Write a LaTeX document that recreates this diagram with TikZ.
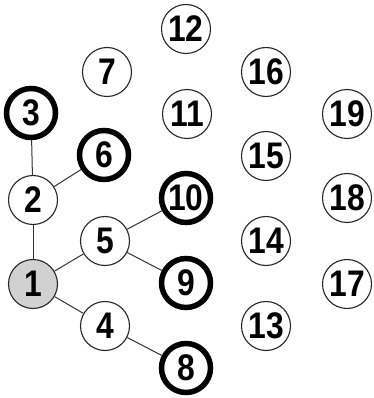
\documentclass[tikz,border=0pt]{standalone}
\usepackage{fontspec}
\setmainfont{Liberation Sans}[FakeStretch=0.86]
\begin{document}
\begin{tikzpicture}[x=1pt,y=-1pt,
  vtx/.style={circle, draw=black!85, line width=1.1pt, minimum size=49pt, inner sep=0pt,
    font=\fontsize{37}{37}\selectfont\bfseries, fill=white},
  hub/.style={vtx, fill=black!18},
  leafvtx/.style={vtx, line width=5.5pt, draw=black},
  link/.style={draw=black!80, line width=1pt}]
\useasboundingbox (0,0) rectangle (373,398);
\node[hub] (n1) at (33,284) {1};
\node[vtx] (n2) at (33,200) {2};
\node[leafvtx] (n3) at (31,113) {3};
\node[vtx] (n4) at (105,326) {4};
\node[vtx] (n5) at (105,241) {5};
\node[leafvtx] (n6) at (104,155) {6};
\node[vtx] (n7) at (107,72) {7};
\node[leafvtx] (n8) at (186,368) {8};
\node[leafvtx] (n9) at (186,283) {9};
\node[leafvtx] (n10) at (186,198) {10};
\node[vtx] (n11) at (187,114) {11};
\node[vtx] (n12) at (186,29) {12};
\node[vtx] (n13) at (266,326) {13};
\node[vtx] (n14) at (266,241) {14};
\node[vtx] (n15) at (266,156) {15};
\node[vtx] (n16) at (266,72) {16};
\node[vtx] (n17) at (347,284) {17};
\node[vtx] (n18) at (347,198) {18};
\node[vtx] (n19) at (347,114) {19};
\path[link] (n3) -- (n2);
\path[link] (n2) -- (n6);
\path[link] (n2) -- (n1);
\path[link] (n1) -- (n5);
\path[link] (n5) -- (n10);
\path[link] (n5) -- (n9);
\path[link] (n1) -- (n4);
\path[link] (n4) -- (n8);
\end{tikzpicture}
\end{document}
